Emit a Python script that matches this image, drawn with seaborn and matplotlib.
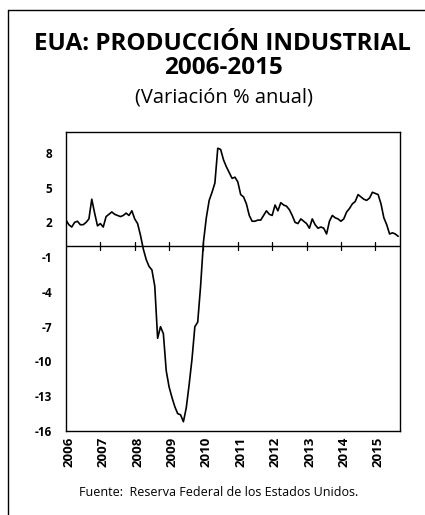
import numpy as np
import pandas as pd
import matplotlib
matplotlib.use("Agg")
import matplotlib.pyplot as plt
import matplotlib.transforms as mtransforms
import seaborn as sns

title_lines = ["EUA: PRODUCCIÓN INDUSTRIAL", "2006-2015"]
subtitle = "(Variación % anual)"
source = "Fuente:  Reserva Federal de los Estados Unidos."

years = list(range(2006, 2016))
y_ticks = [8, 5, 2, -1, -4, -7, -10, -13, -16]

v2006 = [2.2, 1.8, 1.6, 2.0, 2.1, 1.8, 1.8, 2.0, 2.3, 4.0, 2.8, 1.7]
v2007 = [1.9, 1.6, 2.5, 2.7, 2.9, 2.7, 2.6, 2.5, 2.6, 2.8, 2.6, 3.0]
v2008 = [2.3, 1.9, 0.9, -0.3, -1.2, -1.8, -2.1, -3.5, -8.0, -7.0, -7.6, -10.8]
v2009 = [-12.2, -13.1, -13.9, -14.5, -14.6, -15.2, -14.0, -12.0, -9.8, -7.0, -6.6, -3.5]
v2010 = [0.3, 2.4, 3.9, 4.6, 5.4, 8.4, 8.3, 7.4, 6.8, 6.3, 5.8, 5.9]
v2011 = [5.5, 4.4, 4.2, 3.6, 2.6, 2.1, 2.1, 2.2, 2.2, 2.6, 3.0, 2.7]
v2012 = [2.6, 3.5, 3.0, 3.7, 3.5, 3.4, 3.1, 2.6, 2.0, 1.9, 2.3, 2.1]
v2013 = [1.9, 1.5, 2.3, 1.8, 1.5, 1.6, 1.5, 1.0, 2.1, 2.6, 2.4, 2.3]
v2014 = [2.1, 2.3, 2.9, 3.2, 3.6, 3.8, 4.4, 4.2, 4.0, 3.9, 4.1, 4.6]
v2015 = [4.5, 4.4, 3.6, 2.4, 1.8, 1.0, 1.1, 1.0, 0.8]

values = v2006 + v2007 + v2008 + v2009 + v2010 + v2011 + v2012 + v2013 + v2014 + v2015
t = 2006 + np.arange(len(values)) / 12.0
df = pd.DataFrame({"t": t, "v": values})

sns.set_theme(style="white")
plt.rcParams["font.family"] = ["Open Sans", "DejaVu Sans"]
plt.rcParams["text.color"] = "black"
plt.rcParams["xtick.color"] = "black"
plt.rcParams["ytick.color"] = "black"

fig = plt.figure(figsize=(4.25, 5.15), dpi=100)
ax = fig.add_axes([66 / 425, 1 - 431 / 515, (400 - 66) / 425, (431 - 132) / 515])

sns.lineplot(data=df, x="t", y="v", ax=ax, color="black", linewidth=1.2)

ax.axhline(0, color="black", linewidth=1.0)
for yr in years[1:]:
    ax.plot([yr, yr], [-0.4, 0.3], color="black", linewidth=0.9)

ax.set_xlim(2006, 2015.72)
ax.set_ylim(-16, 9.8)
ax.set_yticks(y_ticks)
ax.set_yticklabels([str(v) for v in y_ticks], fontsize=8.5, fontweight="bold")
ax.set_xticks(years)
ax.set_xticklabels([str(y) for y in years], rotation=90, fontsize=9.5, fontweight="bold")
ax.tick_params(axis="y", direction="in", length=3, width=0.8, color="black", pad=10)
ax.tick_params(axis="x", length=0, pad=4)
offset = mtransforms.ScaledTranslation(3 / 100, 0, fig.dpi_scale_trans)
for lab in ax.get_xticklabels():
    lab.set_transform(lab.get_transform() + offset)
ax.set_xlabel("")
ax.set_ylabel("")
for s in ax.spines.values():
    s.set_color("black")
    s.set_linewidth(1.0)

fig.text(0.524, 1 - 44 / 515, title_lines[0], ha="center", va="center", fontsize=17.5,
         fontweight="bold")
fig.text(0.526, 1 - 68 / 515, title_lines[1], ha="center", va="center", fontsize=17.5,
         fontweight="bold")
fig.text(0.526, 1 - 98 / 515, subtitle, ha="center", va="center", fontsize=14.5)
fig.text(0.515, 1 - 492 / 515, source, ha="center", va="center", fontsize=9)

fig.add_artist(plt.Line2D([8 / 425, 8 / 425], [0, 1 - 10 / 515], color="black",
                          linewidth=1.0, transform=fig.transFigure))
fig.add_artist(plt.Line2D([8 / 425, 1], [1 - 10 / 515, 1 - 10 / 515], color="black",
                          linewidth=1.0, transform=fig.transFigure))

fig.savefig("out.png", dpi=100)
